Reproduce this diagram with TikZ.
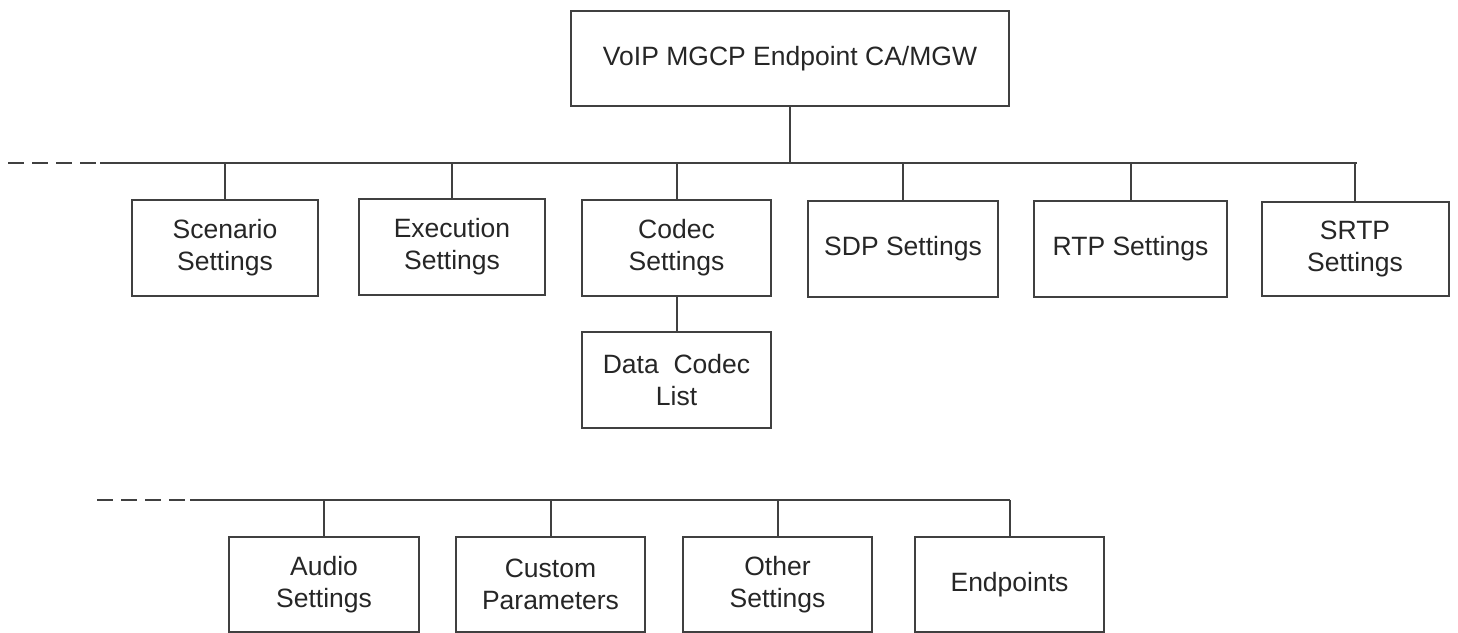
\documentclass[tikz,border=0pt]{standalone}
\usepackage{fontspec}
\setmainfont{Liberation Sans}
\definecolor{linec}{HTML}{404040}
\definecolor{textc}{HTML}{262626}
\tikzset{
  box/.style={draw=linec, line width=2pt, fill=white, inner sep=0pt, align=center,
    minimum height=96pt, font=\fontsize{26.5}{32}\selectfont, text=textc},
  link/.style={draw=linec, line width=2pt},
  dashlink/.style={draw=linec, line width=2pt, dash pattern=on 16pt off 8pt}
}
\begin{document}
\begin{tikzpicture}[x=1pt,y=-1pt]
\useasboundingbox (0,0) rectangle (1458,632);
% root
\node[box, minimum width=438pt, minimum height=95pt] (root) at (790,58.5) {VoIP MGCP Endpoint CA/MGW};
% bus 1
\coordinate (b1L) at (8,163);
\coordinate (b1S) at (100,163);
\coordinate (b1R) at (1357,163);
\draw[dashlink] (b1L) -- (b1S);
\draw[link] (b1S) -- (b1R);
\draw[link] (root.south) -- (root.south |- b1R);
% row 1
\node[box, minimum width=186pt] (scen) at (225,248) {Scenario\\Settings};
\node[box, minimum width=186pt] (exec) at (452,247) {Execution\\Settings};
\node[box, minimum width=189pt] (codec) at (676.5,248) {Codec\\Settings};
\node[box, minimum width=190pt] (sdp) at (903,248.5) {SDP Settings};
\node[box, minimum width=193pt] (rtp) at (1130.5,248.5) {RTP Settings};
\node[box, minimum width=187pt, minimum height=94pt] (srtp) at (1355,249) {SRTP\\Settings};
\foreach \n in {scen,exec,codec,sdp,rtp,srtp}
  \draw[link] (\n.north) -- (\n.north |- b1R);
\node[box, minimum width=189pt] (dcl) at (676.5,380) {Data~~Codec\\List};
\draw[link] (codec.south) -- (dcl.north);
% bus 2
\coordinate (b2L) at (97,500);
\coordinate (b2S) at (190,500);
\coordinate (b2R) at (1009.5,500);
\draw[dashlink] (b2L) -- (b2S);
\draw[link] (b2S) -- (b2R);
% row 2
\node[box, minimum width=190pt, minimum height=95pt] (audio) at (324,584.5) {Audio\\Settings};
\node[box, minimum width=189pt, minimum height=95pt] (custom) at (550.5,584.5) {Custom\\Parameters};
\node[box, minimum width=189pt, minimum height=95pt] (other) at (777.5,584.5) {Other\\Settings};
\node[box, minimum width=189pt, minimum height=95pt] (endp) at (1009.5,584.5) {Endpoints};
\foreach \n in {audio,custom,other,endp}
  \draw[link] (\n.north) -- (\n.north |- b2R);
\end{tikzpicture}
\end{document}
